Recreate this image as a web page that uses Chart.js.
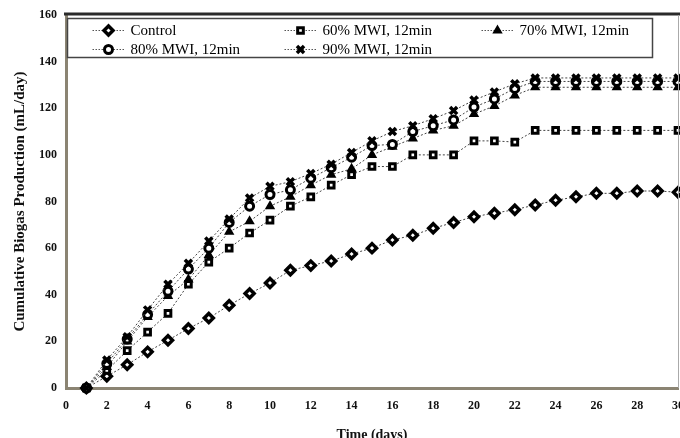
<!DOCTYPE html>
<html>
<head>
<meta charset="utf-8">
<script src="https://cdn.jsdelivr.net/npm/chart.js@4/dist/chart.umd.min.js"></script>
<style>
html,body{margin:0;padding:0;background:#fff;}
#wrap{width:680px;height:438px;}
</style>
</head>
<body>
<div id="wrap"><canvas id="c" width="680" height="438"></canvas></div>
<script>
const days = [1,2,3,4,5,6,7,8,9,10,11,12,13,14,15,16,17,18,19,20,21,22,23,24,25,26,27,28,29,30];
const seriesNames = ["Control","60% MWI, 12min","70% MWI, 12min","80% MWI, 12min","90% MWI, 12min"];
const control = [0,5,10,15.5,20.5,25.5,30,35.5,40.5,45,50.5,52.5,54.5,57.5,60,63.5,65.5,68.5,71,73.5,75,76.5,78.5,80.5,82,83.5,83.5,84.5,84.5,84];
const mwi60 = [0,7.5,16,24,32,44.5,54,60,66.5,72,78,82,87,91.5,95,95,100,100,100,106,106,105.5,110.5,110.5,110.5,110.5,110.5,110.5,110.5,110.5];
const mwi70 = [0,9,20,30.5,39.5,46.5,57,67,71.5,78,82,87,91.5,94,100,103.5,107,110.5,112.5,117.5,121,125.5,129,129,129,129,129,129,129,129];
const mwi80 = [0,10.5,21,31.5,41.5,51,60,71,78,83,85,90,94.5,99,104,104.5,110,112.5,115,120.5,124,128.5,131.5,131.5,131.5,131.5,131.5,131.5,131.5,131.5];
const mwi90 = [0,12,22,33.5,44.5,53.5,63,72.5,81.5,86.5,88.5,92,96,101,106,110,112.5,115.5,119,123.5,127,130.5,133,133,133,133,133,133,133,133];
const xTicks = [0,2,4,6,8,10,12,14,16,18,20,22,24,26,28,30];
const yTicks = [0,20,40,60,80,100,120,140,160];

const serif = "'Liberation Serif','DejaVu Serif',serif";
const styles = [
  {pointStyle:'rectRot', radius:4.5, fill:'#fff', bw:3.5},
  {pointStyle:'rect', radius:4, fill:'#fff', bw:3},
  {pointStyle:'triangle', radius:4.5, fill:'#000', bw:1.5},
  {pointStyle:'circle', radius:4, fill:'#fff', bw:3},
  {pointStyle:'crossRot', radius:5, fill:'#000', bw:3.5}
];
const allSeries = [control, mwi60, mwi70, mwi80, mwi90];
const datasets = allSeries.map((vals, i) => ({
  label: seriesNames[i],
  data: days.map((d, j) => ({x: d, y: vals[j]})),
  borderColor: '#444',
  borderWidth: 1,
  borderDash: [2, 2],
  pointStyle: styles[i].pointStyle,
  pointRadius: styles[i].radius,
  pointBackgroundColor: styles[i].fill,
  pointBorderColor: '#000',
  pointBorderWidth: styles[i].bw,
  clip: false,
  order: 5 - i
}));

const framePlugin = {
  id: 'frame',
  afterDraw(chart) {
    const {ctx, chartArea: a} = chart;
    ctx.save();
    ctx.strokeStyle = '#2a2a2a';
    ctx.lineWidth = 3;
    ctx.beginPath(); ctx.moveTo(a.left - 2, a.top - 1); ctx.lineTo(chart.width, a.top - 1); ctx.stroke();
    ctx.strokeStyle = '#aaa';
    ctx.lineWidth = 1;
    ctx.beginPath(); ctx.moveTo(a.right + 0.5, a.top); ctx.lineTo(a.right + 0.5, a.bottom); ctx.stroke();
    const bx = a.left + 1.5, by = a.top + 3.5, bw = 585, bh = 39;
    ctx.fillStyle = '#fff';
    ctx.fillRect(bx, by, bw, bh);
    ctx.strokeStyle = '#444';
    ctx.lineWidth = 1.5;
    ctx.strokeRect(bx, by, bw, bh);
    const cols = [41, 233, 430];
    const rows = [12, 31];
    ctx.font = '15px ' + serif;
    ctx.textBaseline = 'middle';
    ctx.textAlign = 'left';
    chart.data.datasets.forEach((ds, i) => {
      const cx = bx + cols[i % 3];
      const cy = by + rows[Math.floor(i / 3)];
      ctx.strokeStyle = '#555';
      ctx.lineWidth = 1;
      ctx.setLineDash([1.5, 1.5]);
      ctx.beginPath(); ctx.moveTo(cx - 16, cy); ctx.lineTo(cx + 16, cy); ctx.stroke();
      ctx.setLineDash([]);
      ctx.fillStyle = ds.pointBackgroundColor;
      ctx.strokeStyle = '#000';
      ctx.lineWidth = ds.pointBorderWidth;
      Chart.helpers.drawPoint(ctx, {
        pointStyle: ds.pointStyle, radius: ds.pointRadius, borderWidth: ds.pointBorderWidth
      }, cx, cy);
      ctx.fillStyle = '#000';
      ctx.fillText(ds.label, cx + 22, cy + 1);
    });
    ctx.restore();
  }
};

new Chart(document.getElementById('c'), {
  type: 'line',
  data: {datasets},
  options: {
    responsive: false,
    animation: false,
    layout: {autoPadding: false, padding: {top: 15, right: 2, left: 0, bottom: 0}},
    plugins: {legend: {display: false}, tooltip: {enabled: false}},
    scales: {
      x: {
        type: 'linear', min: 0, max: 30,
        afterBuildTicks: s => { s.ticks = xTicks.map(v => ({value: v})); },
        afterFit: s => { s.height = 50; s.paddingLeft = 0; s.paddingRight = 0; },
        grid: {display: false, drawTicks: false},
        border: {display: true, color: '#8b8473', width: 3},
        ticks: {color: '#111', font: {family: serif, size: 12, weight: 'bold'}, padding: 11, maxRotation: 0, autoSkip: false},
        title: {display: true, text: 'Time (days)', color: '#111', font: {family: serif, size: 14, weight: 'bold'}, padding: {top: 0, bottom: -6}}
      },
      y: {
        type: 'linear', min: 0, max: 160,
        afterBuildTicks: s => { s.ticks = yTicks.map(v => ({value: v})); },
        afterFit: s => { s.width = 66; s.paddingTop = 0; s.paddingBottom = 0; },
        grid: {display: false, drawTicks: false},
        border: {display: true, color: '#8b8473', width: 3},
        ticks: {color: '#111', font: {family: serif, size: 12, weight: 'bold'}, padding: 9},
        title: {display: true, text: 'Cumulative Biogas Production (mL/day)', color: '#111', font: {family: serif, size: 15, weight: 'bold'}, padding: {top: 11, bottom: 0}}
      }
    }
  },
  plugins: [framePlugin]
});
</script>
</body>
</html>
